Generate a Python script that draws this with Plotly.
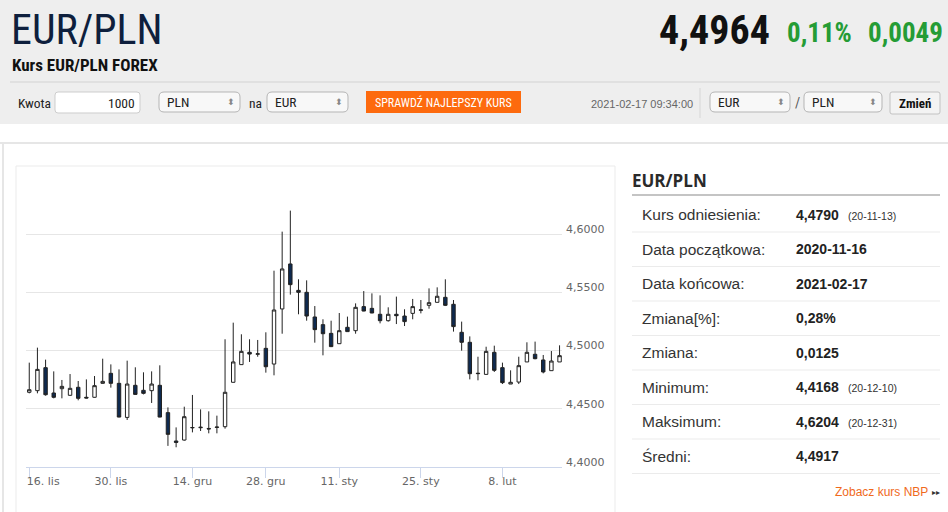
import plotly.graph_objects as go

# EUR/PLN daily candles, 2020-11-16 .. 2021-02-17
dates = [
    "2020-11-16", "2020-11-17", "2020-11-18", "2020-11-19", "2020-11-20",
    "2020-11-23", "2020-11-24", "2020-11-25", "2020-11-26", "2020-11-27",
    "2020-11-30", "2020-12-01", "2020-12-02", "2020-12-03", "2020-12-04",
    "2020-12-07", "2020-12-08", "2020-12-09", "2020-12-10", "2020-12-11",
    "2020-12-14", "2020-12-15", "2020-12-16", "2020-12-17", "2020-12-18",
    "2020-12-21", "2020-12-22", "2020-12-23", "2020-12-24",
    "2020-12-28", "2020-12-29", "2020-12-30", "2020-12-31",
    "2021-01-04", "2021-01-05", "2021-01-06", "2021-01-07", "2021-01-08",
    "2021-01-11", "2021-01-12", "2021-01-13", "2021-01-14", "2021-01-15",
    "2021-01-18", "2021-01-19", "2021-01-20", "2021-01-21", "2021-01-22",
    "2021-01-25", "2021-01-26", "2021-01-27", "2021-01-28", "2021-01-29",
    "2021-02-01", "2021-02-02", "2021-02-03", "2021-02-04", "2021-02-05",
    "2021-02-08", "2021-02-09", "2021-02-10", "2021-02-11", "2021-02-12",
    "2021-02-15", "2021-02-16", "2021-02-17",
]
open_ = [
    4.4641, 4.4655, 4.4853, 4.4635, 4.4672, 4.4615, 4.4684, 4.4598, 4.4598, 4.4718,
    4.4804, 4.4718, 4.4425, 4.4701, 4.4658, 4.4655, 4.4701, 4.4466, 4.4222, 4.4230,
    4.4335, 4.4336, 4.4330, 4.4338, 4.4345, 4.4727, 4.4879, 4.4985, 4.4968,
    4.5019, 4.4884, 4.5358, 4.5745,
    4.5518, 4.5501, 4.5289, 4.5223, 4.5148, 4.5059, 4.5200, 4.5171, 4.5378, 4.5363,
    4.5312, 4.5257, 4.5312, 4.5297, 4.5320, 4.5346, 4.5389, 4.5415, 4.5458, 4.5398,
    4.5157, 4.5071, 4.4805, 4.4795, 4.4985, 4.4853, 4.4712, 4.4729, 4.4902, 4.4968,
    4.4919, 4.4827, 4.4902,
]
high = [
    4.4896, 4.5025, 4.4922, 4.4821, 4.4747, 4.4798, 4.4738, 4.4752, 4.4781, 4.4930,
    4.4881, 4.4838, 4.4913, 4.4856, 4.4813, 4.4821, 4.4873, 4.4511, 4.4339, 4.4517,
    4.4618, 4.4494, 4.4477, 4.4440, 4.5097, 4.5240, 4.5140, 4.5097, 4.5091,
    4.5157, 4.5687, 4.6023, 4.6204,
    4.5613, 4.5604, 4.5383, 4.5269, 4.5257, 4.5323, 4.5292, 4.5406, 4.5512, 4.5492,
    4.5475, 4.5372, 4.5464, 4.5355, 4.5444, 4.5435, 4.5535, 4.5544, 4.5613, 4.5435,
    4.5249, 4.5122, 4.4947, 4.5033, 4.5042, 4.4896, 4.4830, 4.4947, 4.5071, 4.5077,
    4.4962, 4.4996, 4.5045,
]
low = [
    4.4632, 4.4632, 4.4612, 4.4589, 4.4589, 4.4612, 4.4572, 4.4589, 4.4595, 4.4716,
    4.4681, 4.4426, 4.4403, 4.4620, 4.4623, 4.4549, 4.4426, 4.4180, 4.4168, 4.4225,
    4.4296, 4.4308, 4.4288, 4.4288, 4.4328, 4.4725, 4.4878, 4.4902, 4.4947,
    4.4810, 4.4787, 4.5145, 4.5481,
    4.5312, 4.5257, 4.5068, 4.4959, 4.5030, 4.5058, 4.5162, 4.5145, 4.5338, 4.5322,
    4.5234, 4.5249, 4.5228, 4.5211, 4.5269, 4.5320, 4.5360, 4.5414, 4.5383, 4.5163,
    4.4999, 4.4752, 4.4744, 4.4794, 4.4816, 4.4712, 4.4712, 4.4712, 4.4902, 4.4925,
    4.4804, 4.4827, 4.4902,
]
close = [
    4.4663, 4.4838, 4.4620, 4.4598, 4.4692, 4.4675, 4.4589, 4.4592, 4.4698, 4.4735,
    4.4718, 4.4428, 4.4712, 4.4623, 4.4632, 4.4712, 4.4428, 4.4279, 4.4210, 4.4431,
    4.4338, 4.4340, 4.4326, 4.4342, 4.4641, 4.4902, 4.4993, 4.4970, 4.4972,
    4.4861, 4.5349, 4.5702, 4.5567,
    4.5501, 4.5297, 4.5180, 4.5145, 4.5034, 4.5171, 4.5163, 4.5372, 4.5340, 4.5323,
    4.5257, 4.5312, 4.5300, 4.5249, 4.5378, 4.5350, 4.5412, 4.5467, 4.5389, 4.5206,
    4.5071, 4.4801, 4.4802, 4.4993, 4.4830, 4.4724, 4.4727, 4.4870, 4.4985, 4.4930,
    4.4816, 4.4910, 4.4956,
]

tick_dates = ["2020-11-16", "2020-11-30", "2020-12-14", "2020-12-28",
              "2021-01-11", "2021-01-25", "2021-02-08"]
tick_labels = ["16. lis", "30. lis", "14. gru", "28. gru", "11. sty", "25. sty", "8. lut"]
price_ticks = [4.40, 4.45, 4.50, 4.55, 4.60, 4.65]
price_labels = ["4,4000", "4,4500", "4,5000", "4,5500", "4,6000", ""]

table_labels = ["Kurs odniesienia:", "Data początkowa:", "Data końcowa:", "Zmiana[%]:",
                "Zmiana:", "Minimum:", "Maksimum:", "Średni:"]
table_values = ["4,4790", "2020-11-16", "2021-02-17", "0,28%", "0,0125",
                "4,4168", "4,6204", "4,4917"]
table_notes = ["(20-11-13)", "", "", "", "", "(20-12-10)", "(20-12-31)", ""]

W, H = 948, 512
NARROW = "Roboto Condensed, Liberation Sans, sans-serif"
SANS = "Liberation Sans, Arial, sans-serif"
AXIS = "DejaVu Sans, Verdana, sans-serif"


def X(p):
    return p / W


def Y(p):
    return 1 - p / H


shapes = []
annotations = []


def rect(x0, y0, x1, y1, fill=None, line=None, lw=1):
    shapes.append(dict(type="rect", xref="paper", yref="paper", layer="below",
                       x0=X(x0), x1=X(x1), y0=Y(y0), y1=Y(y1),
                       fillcolor=fill or "rgba(0,0,0,0)",
                       line=dict(color=line or "rgba(0,0,0,0)", width=lw if line else 0)))


def hline(x0, x1, y, color, lw=1):
    shapes.append(dict(type="line", xref="paper", yref="paper", layer="below",
                       x0=X(x0), x1=X(x1), y0=Y(y), y1=Y(y), line=dict(color=color, width=lw)))


def vline(x, y0, y1, color, lw=1):
    shapes.append(dict(type="line", xref="paper", yref="paper", layer="below",
                       x0=X(x), x1=X(x), y0=Y(y0), y1=Y(y1), line=dict(color=color, width=lw)))


def rrect(x0, y0, x1, y1, r, fill, line):
    # rounded box for form controls
    p = lambda x, y: f"{X(x):.5f},{Y(y):.5f}"
    path = (f"M{p(x0 + r, y0)} L{p(x1 - r, y0)} Q{p(x1, y0)} {p(x1, y0 + r)} "
            f"L{p(x1, y1 - r)} Q{p(x1, y1)} {p(x1 - r, y1)} L{p(x0 + r, y1)} "
            f"Q{p(x0, y1)} {p(x0, y1 - r)} L{p(x0, y0 + r)} Q{p(x0, y0)} {p(x0 + r, y0)} Z")
    shapes.append(dict(type="path", xref="paper", yref="paper", layer="below", path=path,
                       fillcolor=fill, line=dict(color=line, width=1)))


def txt(x, y, s, size, color="#222", family=SANS, bold=False, anchor="left"):
    annotations.append(dict(x=X(x), y=Y(y), xref="paper", yref="paper", showarrow=False,
                            text=f"<b>{s}</b>" if bold else s, xanchor=anchor, yanchor="middle",
                            borderpad=0, font=dict(size=size, color=color, family=family)))


# header band
rect(0, 0, W, 124, fill="#eeeeee")
hline(10, 940, 82, "#d2d2d2")
txt(10, 29, "EUR/PLN", 42, "#0e1f3d", NARROW)
txt(11, 65, "Kurs EUR/PLN FOREX", 17, "#111", NARROW, bold=True)
txt(771, 30, "4,4964", 40, "#111", NARROW, bold=True, anchor="right")
txt(786, 33, "0,11%", 27, "#259c35", NARROW, bold=True)
txt(867, 33, "0,0049", 27, "#259c35", NARROW, bold=True)

# form row
txt(17, 103, "Kwota", 13.5, "#222", NARROW)
rrect(55, 92, 140, 113, 3, "white", "#cdcdcd")
txt(136, 103, "1000", 13.5, "#222", NARROW, anchor="right")
for x0, x1, label in [(159, 240, "PLN"), (267, 348, "EUR"), (710, 790, "EUR"), (804, 882, "PLN")]:
    rrect(x0, 92, x1, 112, 5, "#f8f8f8", "#b5b5b5")
    txt(x0 + 7, 102, label, 13.5, "#222", NARROW)
    txt(x1 - 9, 102, "⬍", 9, "#888", AXIS, anchor="center")
txt(248, 103, "na", 13.5, "#222", NARROW)
rect(366, 91, 521, 113, fill="#fd6a0e")
txt(443.5, 102, "SPRAWDŹ NAJLEPSZY KURS", 12, "white", NARROW, anchor="center")
txt(590, 104, "2021-02-17 09:34:00", 11, "#666", SANS)
vline(700, 88, 118, "#d6d6d6")
txt(797, 103, "/", 14, "#555", NARROW, anchor="center")
rrect(890, 92, 940, 114, 2, "#f3f3f3", "#c2c2c2")
txt(915, 103, "Zmień", 13, "#111", NARROW, bold=True, anchor="center")

# content panel + chart box
hline(0, W, 143, "#e6e6e6", 2)
vline(3, 143, 520, "#e6e6e6", 2)
rect(16, 166, 615, 530, line="#ebebeb")

# stats table
txt(631, 180, "EUR/PLN", 17, "#2a2a2a", "Open Sans, sans-serif", bold=True)
hline(632, 940, 195, "#c4c4c4", 2)
row_top, row_h = 197.5, 34.5
for i, (lab, val, note) in enumerate(zip(table_labels, table_values, table_notes)):
    yc = row_top + row_h * (i + 0.5)
    txt(641, yc, lab, 15.5, "#333", SANS)
    txt(795, yc, val, 14, "#222", SANS, bold=True)
    if note:
        txt(847, yc + 1, note, 10.5, "#333", SANS)
    hline(632, 940, row_top + row_h * (i + 1), "#ebebeb")
txt(929, 492, "Zobacz kurs NBP", 12, "#f06a1c", SANS, anchor="right")
txt(931, 492, "▸▸", 8, "#333", AXIS)

# first x label sits inside the plot like the original (left-justified)
tick_text = ["\u00a0" * 8 + tick_labels[0]] + tick_labels[1:]

fig = go.Figure(go.Candlestick(
    x=dates, open=open_, high=high, low=low, close=close,
    increasing=dict(line=dict(color="#222", width=1), fillcolor="white"),
    decreasing=dict(line=dict(color="#222", width=1), fillcolor="#0e2a50"),
    whiskerwidth=0, showlegend=False, hoverinfo="skip",
))

fig.update_layout(
    width=W, height=H,
    margin=dict(l=0, r=0, t=0, b=0, autoexpand=False),
    paper_bgcolor="white",
    plot_bgcolor="rgba(0,0,0,0)",
    separators=", ",
    boxgap=0.4,
    shapes=shapes,
    annotations=annotations,
    xaxis=dict(
        type="category", domain=[X(26), X(562)], range=[-0.4, 65.3], automargin=False,
        rangeslider=dict(visible=False), showgrid=False, zeroline=False,
        showline=True, linecolor="#ccd6eb", linewidth=1,
        ticks="outside", ticklen=10, tickcolor="#ccd6eb",
        tickvals=tick_dates, ticktext=tick_text, tickangle=0,
        tickfont=dict(family=AXIS, size=11, color="#666"), ticklabelstandoff=-6,
    ),
    yaxis=dict(
        domain=[Y(466.8), Y(176.2)], range=[4.4, 4.65], side="right", automargin=False,
        tickvals=price_ticks, ticktext=price_labels,
        showgrid=True, gridcolor="#e6e6e6", gridwidth=1, zeroline=False, showline=False,
        ticks="", tickfont=dict(family=AXIS, size=11, color="#666"),
        ticklabelstandoff=3, ticklabelshift=-5,
    ),
)

# pin the figure to the top-left corner of the window
pin = ("var d=document.getElementById('{plot_id}');document.body.style.margin='0';"
       "d.style.position='fixed';d.style.left='0px';d.style.top='0px';")
fig.write_html("out.html", post_script=pin, config={"displayModeBar": False})
